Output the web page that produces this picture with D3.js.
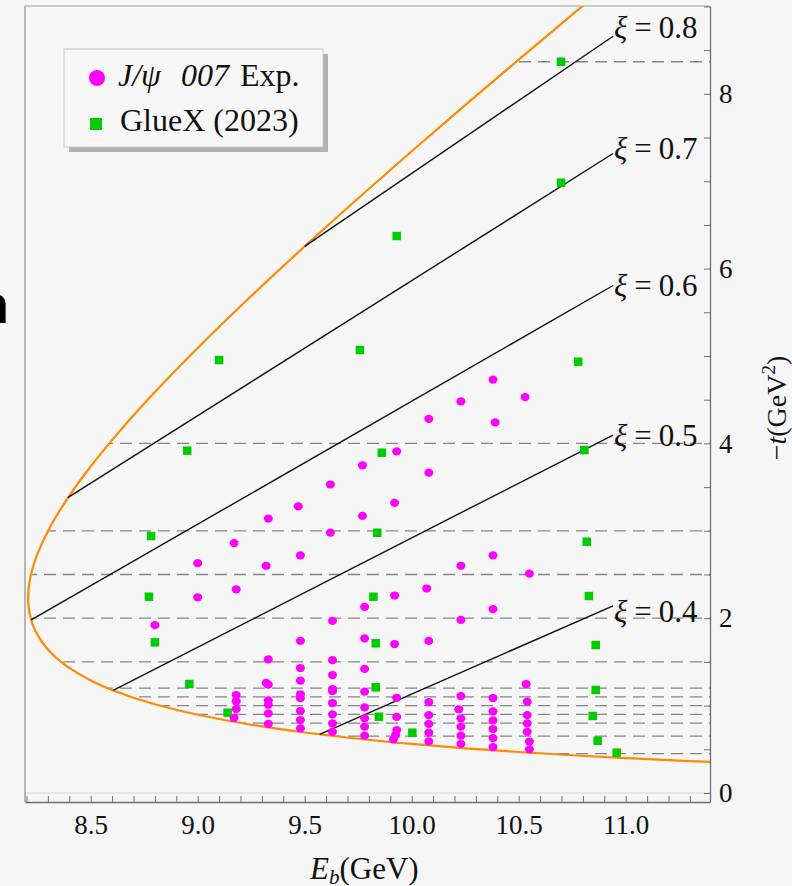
<!DOCTYPE html>
<html>
<head>
<meta charset="utf-8">
<script src="https://cdn.jsdelivr.net/npm/d3@7"></script>
<style>
  html, body { margin: 0; padding: 0; background: #f6f6f6; }
  svg { display: block; }
  text { font-family: 'Liberation Serif', 'Times New Roman', serif; fill: #111; }
</style>
</head>
<body>
<div class="chart"></div>
<script>
// kinematic boundary (orange): upper branch, vertex, lower branch
var boundaryE = [10.85, 10.75, 10.5, 10.25, 10.0, 9.75, 9.5, 9.25, 9.0, 8.8, 8.6, 8.5, 8.4, 8.3, 8.25, 8.235, 8.22, 8.21,
  8.2078,
  8.21, 8.22, 8.235, 8.25, 8.3, 8.4, 8.5, 8.6, 8.8, 9.0, 9.25, 9.5, 9.75, 10.0, 10.25, 10.5, 10.75, 11.0, 11.25, 11.45];
var boundaryT = [9.110, 8.906, 8.391, 7.871, 7.343, 6.805, 6.254, 5.686, 5.091, 4.587, 4.038, 3.736, 3.400, 2.996, 2.727, 2.623, 2.488, 2.337,
  2.230,
  2.128, 1.996, 1.890, 1.815, 1.643, 1.431, 1.288, 1.178, 1.015, 0.895, 0.781, 0.692, 0.621, 0.561, 0.511, 0.469, 0.432, 0.400, 0.371, 0.351];

// dashed bin edges in -t
var dashT = [8.367, 4.0, 3.0, 2.5, 2.0, 1.5, 1.2, 1.1, 1.0, 0.9, 0.8, 0.65, 0.45];

// constant-xi lines
var xiValues = [0.4, 0.5, 0.6, 0.7, 0.8];
var xiStartE = [9.57, 8.605, 8.222, 8.393, 9.50];
var xiStartT = [0.671, 1.174, 1.981, 3.379, 6.255];
var xiEndE = [10.941, 10.941, 10.941, 10.941, 10.941];
var xiEndT = [2.141, 4.096, 5.807, 7.317, 8.659];

// J/psi 007 points [E_b, -t]
var jpsi007 = [
  [8.80, 1.92],
  [9.00, 2.63], [9.00, 2.24],
  [9.17, 2.86], [9.18, 2.33], [9.18, 1.12], [9.18, 1.05], [9.18, 0.96], [9.17, 0.86],
  [9.33, 3.14], [9.32, 2.60], [9.33, 1.53], [9.32, 1.26], [9.33, 1.24], [9.33, 1.06], [9.33, 1.01], [9.33, 0.91], [9.33, 0.79],
  [9.47, 3.28], [9.48, 2.72], [9.48, 1.74], [9.48, 1.43], [9.48, 1.285], [9.48, 1.13], [9.48, 1.085], [9.48, 0.94], [9.48, 0.835], [9.48, 0.74],
  [9.62, 3.53], [9.62, 2.98], [9.63, 1.97], [9.63, 1.52], [9.63, 1.35], [9.63, 1.19], [9.63, 1.165], [9.63, 1.03], [9.63, 0.90], [9.63, 0.797], [9.63, 0.70],
  [9.77, 3.75], [9.77, 3.17], [9.78, 2.13], [9.78, 1.77], [9.78, 1.42], [9.78, 1.16], [9.78, 0.98], [9.78, 0.855], [9.78, 0.76], [9.78, 0.656],
  [9.93, 3.91], [9.92, 3.32], [9.92, 2.26], [9.92, 1.705], [9.93, 1.09], [9.93, 0.87], [9.93, 0.72], [9.925, 0.664], [9.915, 0.614],
  [10.08, 4.28], [10.08, 3.665], [10.07, 2.34], [10.08, 1.74], [10.08, 1.04], [10.08, 0.89], [10.08, 0.79], [10.08, 0.69], [10.08, 0.59],
  [10.23, 4.48], [10.23, 2.60], [10.23, 1.98], [10.23, 1.11], [10.22, 0.958], [10.23, 0.855], [10.23, 0.759], [10.23, 0.656], [10.23, 0.561],
  [10.38, 4.73], [10.39, 4.24], [10.38, 2.72], [10.38, 2.105], [10.38, 1.087], [10.38, 0.935], [10.38, 0.83], [10.38, 0.732], [10.38, 0.629], [10.38, 0.526],
  [10.53, 4.53], [10.55, 2.51], [10.535, 1.247], [10.54, 1.045], [10.54, 0.892], [10.54, 0.797], [10.54, 0.701], [10.55, 0.589], [10.55, 0.50]
];

// GlueX (2023) points [E_b, -t]
var gluex = [
  [10.698, 8.367], [10.698, 6.983], [9.930, 6.373], [9.100, 4.954], [9.758, 5.069], [10.778, 4.935],
  [8.951, 3.917], [9.860, 3.894], [10.807, 3.924],
  [8.782, 2.940], [9.839, 2.978], [10.818, 2.875],
  [8.772, 2.246], [9.821, 2.246], [10.828, 2.254],
  [8.800, 1.724], [9.832, 1.713], [10.860, 1.693],
  [8.961, 1.247], [9.832, 1.209], [10.860, 1.179],
  [9.140, 0.919], [9.847, 0.873], [10.846, 0.881],
  [10.003, 0.690], [10.869, 0.598], [10.958, 0.461]
];

var xTickLabels = [8.5, 9.0, 9.5, 10.0, 10.5, 11.0];
var yTickLabels = [0, 2, 4, 6, 8];

// label nudges (pixels) for the xi annotations
var xiLabelDy = [16, 11, 11, 5, 2];

var W = 792, H = 886;
var pLeft = 25, pRight = 710, pTop = 6, pBottom = 802;

var svg = d3.select('.chart')
  .append('svg')
  .attr('width', W)
  .attr('height', H);

svg.append('rect')
  .attr('width', W)
  .attr('height', H)
  .style('fill', '#f6f6f6');

var xScale = d3.scaleLinear().domain([8.193, 11.394]).range([pLeft, pRight]);
var yScale = d3.scaleLinear().domain([-0.103, 9.005]).range([pBottom, pTop]);

var defs = svg.append('defs');
defs.append('clipPath').attr('id', 'plotClip')
  .append('rect')
  .attr('x', pLeft).attr('y', pTop)
  .attr('width', pRight - pLeft).attr('height', pBottom - pTop);

var boundary = boundaryE.map((e, i) => [e, boundaryT[i]]);
var curve = d3.line()
  .x(d => xScale(d[0]))
  .y(d => yScale(d[1]))
  .curve(d3.curveMonotoneY);

// region inside the boundary, closed along the right side
var regionPath = curve(boundary) +
  'L' + xScale(11.6) + ',' + yScale(0.351) +
  'L' + xScale(11.6) + ',' + yScale(9.6) +
  'L' + xScale(10.85) + ',' + yScale(9.6) + 'Z';
defs.append('clipPath').attr('id', 'regionClip')
  .append('path').attr('d', regionPath);

var plot = svg.append('g').attr('clip-path', 'url(#plotClip)');

// light line at -t = 0
plot.append('line')
  .attr('x1', pLeft).attr('x2', pRight)
  .attr('y1', yScale(0)).attr('y2', yScale(0))
  .style('stroke', '#d4d4d4')
  .style('stroke-width', 1.2);

// dashed bin edges
plot.append('g')
  .attr('clip-path', 'url(#regionClip)')
  .selectAll('line')
  .data(dashT)
  .enter()
  .append('line')
  .attr('x1', pLeft)
  .attr('x2', pRight)
  .attr('y1', d => yScale(d))
  .attr('y2', d => yScale(d))
  .style('stroke', '#858585')
  .style('stroke-width', 1.3)
  .style('stroke-dasharray', '12,7');

// kinematic boundary
plot.append('path')
  .attr('d', curve(boundary))
  .style('fill', 'none')
  .style('stroke', '#ff8a00')
  .style('stroke-width', 2.2);

// constant xi lines
plot.selectAll('.xi')
  .data(xiValues)
  .enter()
  .append('line')
  .attr('class', 'xi')
  .attr('x1', (d, i) => xScale(xiStartE[i]))
  .attr('y1', (d, i) => yScale(xiStartT[i]))
  .attr('x2', (d, i) => xScale(xiEndE[i]))
  .attr('y2', (d, i) => yScale(xiEndT[i]))
  .style('stroke', '#111')
  .style('stroke-width', 1.4);

// GlueX squares
var sq = 8.5;
plot.selectAll('.gluex')
  .data(gluex)
  .enter()
  .append('rect')
  .attr('class', 'gluex')
  .attr('x', d => xScale(d[0]) - sq / 2)
  .attr('y', d => yScale(d[1]) - sq / 2)
  .attr('width', sq)
  .attr('height', sq)
  .style('fill', '#00cc00');

// J/psi 007 points
plot.selectAll('.jpsi')
  .data(jpsi007)
  .enter()
  .append('ellipse')
  .attr('class', 'jpsi')
  .attr('cx', d => xScale(d[0]))
  .attr('cy', d => yScale(d[1]))
  .attr('rx', 4.5)
  .attr('ry', 4.1)
  .style('fill', '#ff00ff');

// xi labels
var xiLabels = svg.selectAll('.xiLabel')
  .data(xiValues)
  .enter()
  .append('text')
  .attr('class', 'xiLabel')
  .attr('x', (d, i) => xScale(xiEndE[i]) + 1)
  .attr('y', (d, i) => yScale(xiEndT[i]) + xiLabelDy[i])
  .style('font-size', '31px');
xiLabels.append('tspan').style('font-style', 'italic').text('ξ');
xiLabels.append('tspan').attr('dx', 7).text('=');
xiLabels.append('tspan').attr('dx', 7).text(d => d.toFixed(1));

// frame
svg.append('line')
  .attr('x1', pLeft).attr('x2', pLeft).attr('y1', pTop).attr('y2', pBottom)
  .style('stroke', '#8c8c8c').style('stroke-width', 1.2);
svg.append('line')
  .attr('x1', pLeft).attr('x2', pRight).attr('y1', pTop).attr('y2', pTop)
  .style('stroke', '#a0a0a0').style('stroke-width', 1.2);

// bottom axis
var xMinor = d3.range(82, 114).map(d => d / 10);
var xAxis = d3.axisBottom(xScale)
  .tickValues(xMinor)
  .tickSizeInner(-6)
  .tickSizeOuter(0)
  .tickPadding(12.5)
  .tickFormat(d => xTickLabels.some(v => Math.abs(v - d) < 1e-6) ? d3.format('.1f')(d) : '');
var gx = svg.append('g')
  .attr('transform', `translate(0, ${pBottom})`)
  .call(xAxis);

// right axis
var yMinor = d3.range(0, 19).map(d => d / 2);
var yAxis = d3.axisRight(yScale)
  .tickValues(yMinor)
  .tickSizeInner(-6)
  .tickSizeOuter(0)
  .tickPadding(9)
  .tickFormat(d => yTickLabels.indexOf(d) >= 0 ? d : '');
var gy = svg.append('g')
  .attr('transform', `translate(${pRight}, 0)`)
  .call(yAxis);

[gx, gy].forEach(g => {
  g.select('.domain').style('stroke', '#6e6e6e').style('stroke-width', 1.3);
  g.selectAll('.tick line').style('stroke', '#6e6e6e').style('stroke-width', 1);
  g.selectAll('.tick text')
    .style('font-family', "'Liberation Serif', 'Times New Roman', serif")
    .style('font-size', '27px')
    .style('fill', '#111');
});

// axis titles
var xt = svg.append('text')
  .attr('x', 310)
  .attr('y', 879)
  .style('font-size', '31px');
xt.append('tspan').style('font-style', 'italic').text('E');
xt.append('tspan').style('font-style', 'italic').style('font-size', '21px').attr('dy', 5).text('b');
xt.append('tspan').attr('dy', -5).text('(GeV)');

var yt = svg.append('text')
  .attr('transform', 'translate(786, 408) rotate(-90)')
  .style('text-anchor', 'middle')
  .style('font-size', '28px');
yt.append('tspan').text('−');
yt.append('tspan').style('font-style', 'italic').text('t');
yt.append('tspan').text('(GeV');
yt.append('tspan').style('font-size', '19px').attr('dy', -11).text('2');
yt.append('tspan').attr('dy', 11).text(')');

// legend
var legend = svg.append('g').attr('transform', 'translate(64, 49)');
legend.append('rect')
  .attr('x', 5).attr('y', 5)
  .attr('width', 259).attr('height', 98)
  .style('fill', '#b2b2b2');
legend.append('rect')
  .attr('width', 259).attr('height', 98)
  .style('fill', '#f7f7f7')
  .style('stroke', '#c4c4c4')
  .style('stroke-width', 1);
legend.append('circle')
  .attr('cx', 33).attr('cy', 29).attr('r', 8)
  .style('fill', '#ff00ff');
legend.append('rect')
  .attr('x', 26).attr('y', 69).attr('width', 12).attr('height', 12)
  .style('fill', '#00cc00');
var l1 = legend.append('text')
  .attr('y', 37)
  .style('font-size', '32px');
l1.append('tspan').attr('x', 54).style('font-style', 'italic').text('J/ψ');
l1.append('tspan').attr('x', 117).style('font-style', 'italic').text('007');
l1.append('tspan').attr('x', 176).text('Exp.');
legend.append('text')
  .attr('x', 56).attr('y', 82)
  .style('font-size', '32px')
  .text('GlueX (2023)');

// clipped letter from the slide at the left edge
svg.append('text')
  .attr('x', 9)
  .attr('y', 323)
  .style('text-anchor', 'end')
  .style('font-family', "'Liberation Sans', Arial, sans-serif")
  .style('font-weight', 'bold')
  .style('font-size', '54px')
  .style('fill', '#000')
  .text('n');
</script>
</body>
</html>
